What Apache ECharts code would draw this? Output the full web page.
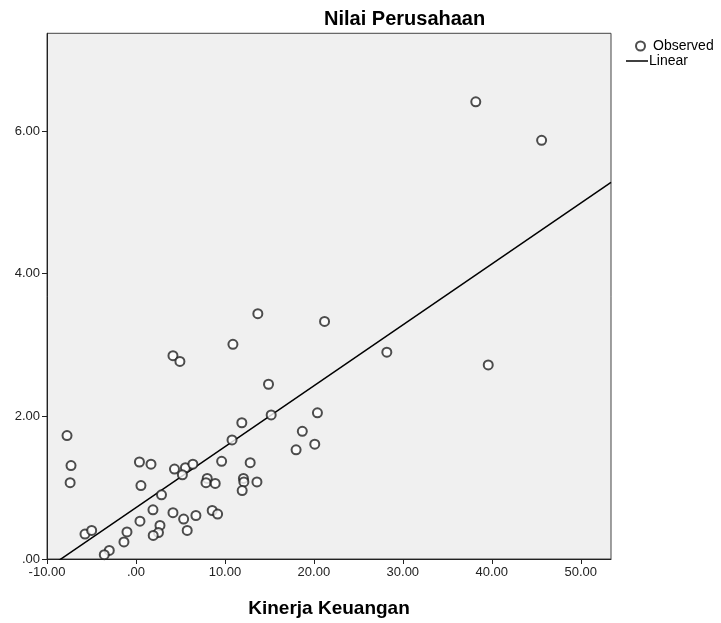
<!DOCTYPE html>
<html>
<head>
<meta charset="utf-8">
<script src="https://cdn.jsdelivr.net/npm/echarts@6/dist/echarts.min.js"></script>
<style>
html,body{margin:0;padding:0;background:#fff;}
#c{width:721px;height:623px;}
</style>
</head>
<body>
<div id="c"></div>
<script>
// Observed values: Kinerja Keuangan (x) and Nilai Perusahaan (y)
const kinerjaKeuangan = [
  38.2, 45.6, 39.6, 28.2, 21.2, 13.7, 10.9, 4.16, 4.94, 14.9,
  20.4, 15.2, 11.9, 10.8, 18.7, 20.1, 18.0, -7.75, -7.3, -7.4,
  0.39, 1.69, 0.56, 4.33, 5.56, 6.40, 5.22, 2.87, 9.63, 12.84,
  8.01, 7.87, 8.91, 12.08, 12.13, 11.94, 13.6, 1.91, 0.45, 4.16,
  5.36, 6.74, 8.57, 9.18, 2.70, 2.53, 1.94, 5.76, -1.01, -1.35,
  -5.73, -4.98, -3.0, -3.56
];
const nilaiPerusahaan = [
  6.41, 5.87, 2.72, 2.90, 3.33, 3.44, 3.01, 2.85, 2.77, 2.45,
  2.05, 2.02, 1.91, 1.67, 1.79, 1.61, 1.53, 1.73, 1.31, 1.07,
  1.36, 1.33, 1.03, 1.26, 1.28, 1.33, 1.18, 0.90, 1.37, 1.35,
  1.13, 1.07, 1.06, 1.13, 1.08, 0.96, 1.08, 0.69, 0.53, 0.65,
  0.56, 0.61, 0.68, 0.63, 0.47, 0.37, 0.33, 0.40, 0.38, 0.24,
  0.35, 0.40, 0.12, 0.06
];
// Linear fit
const linearIntercept = 0.72;
const linearSlope = 0.0854;
// Axes
const xMin = -10, xMax = 53.4;
const yMin = 0, yMax = 7.37;
const xTicks = [-10, 0, 10, 20, 30, 40, 50];
const yTicks = [0, 2, 4, 6];

const observed = kinerjaKeuangan.map((x, i) => [x, nilaiPerusahaan[i]]);
const linear = [xMin, xMax].map(x => [x, linearIntercept + linearSlope * x]);

function fmt(v) {
  return v.toFixed(2).replace(/^(-?)0\./, '$1.');
}

const FONT = 'Liberation Sans, Arial, sans-serif';
const chart = echarts.init(document.getElementById('c'));
chart.setOption({
  animation: false,
  backgroundColor: '#ffffff',
  title: {
    text: 'Nilai Perusahaan',
    left: 324, top: 9,
    padding: 0,
    textStyle: { fontFamily: FONT, fontSize: 20, fontWeight: 'bold', color: '#000' }
  },
  legend: [
    {
      data: ['Observed'],
      left: 635, top: 39,
      padding: 0,
      itemWidth: 9, itemHeight: 9,
      textStyle: { fontFamily: FONT, fontSize: 14, color: '#000', padding: [0, 0, 0, 3] }
    },
    {
      data: [{ name: 'Linear', icon: 'rect' }],
      left: 626, top: 54,
      padding: 0,
      itemWidth: 22, itemHeight: 1.5,
      itemStyle: { color: '#000' },
      textStyle: { fontFamily: FONT, fontSize: 14, color: '#000', padding: [0, 0, 0, -4] }
    }
  ],
  grid: {
    left: 47, right: 110, top: 33.3, bottom: 61.3,
    show: true,
    backgroundColor: '#f0f0f0',
    borderColor: '#444',
    borderWidth: 1,
    containLabel: false
  },
  xAxis: {
    type: 'value',
    min: xMin, max: xMax,
    name: 'Kinerja Keuangan',
    nameLocation: 'middle',
    nameGap: 40,
    nameTextStyle: { fontFamily: FONT, fontSize: 19, fontWeight: 'bold', color: '#000' },
    splitLine: { show: false },
    axisLine: { show: true, onZero: false, lineStyle: { color: '#222', width: 1 } },
    axisTick: { show: true, length: 5, lineStyle: { color: '#222' }, customValues: xTicks },
    axisLabel: {
      customValues: xTicks,
      formatter: fmt,
      margin: 7,
      fontFamily: FONT, fontSize: 13, color: '#222'
    }
  },
  yAxis: {
    type: 'value',
    min: yMin, max: yMax,
    splitLine: { show: false },
    axisLine: { show: true, onZero: false, lineStyle: { color: '#222', width: 1 } },
    axisTick: { show: true, length: 5, lineStyle: { color: '#222' }, customValues: yTicks },
    axisLabel: {
      customValues: yTicks,
      formatter: fmt,
      margin: 7,
      fontFamily: FONT, fontSize: 13, color: '#222'
    }
  },
  series: [
    {
      name: 'Observed',
      type: 'scatter',
      data: observed,
      symbol: 'emptyCircle',
      symbolSize: 9,
      itemStyle: { color: '#222', borderColor: '#222', borderWidth: 1 },
      z: 3
    },
    {
      name: 'Linear',
      type: 'line',
      data: linear,
      symbol: 'none',
      clip: true,
      lineStyle: { color: '#000', width: 1.5 },
      z: 2
    }
  ]
});
</script>
</body>
</html>
